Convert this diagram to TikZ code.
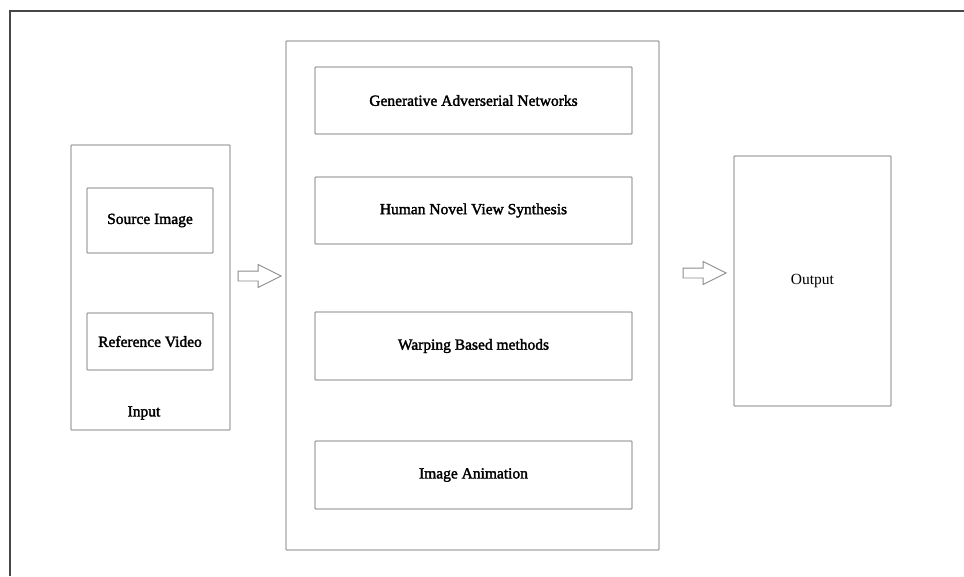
\documentclass[tikz,border=0pt]{standalone}
\usepackage{fontspec}
\setmainfont{Liberation Serif}
\newfontfamily\heavyserif[FakeBold=2]{Liberation Serif}
\usetikzlibrary{positioning, shapes.arrows, calc}

\begin{document}
\begin{tikzpicture}[
  x=1pt, y=-1pt,
  box/.style={draw=black!35, line width=1.4pt, rounded corners=0.8pt, inner sep=0pt, align=center, font=\fontsize{15.5}{18}\selectfont\heavyserif},
  blockarrow/.style={single arrow, draw=black!45, line width=0.9pt, inner sep=0pt, inner ysep=4.5pt, minimum height=43pt, single arrow head extend=6.5pt, single arrow tip angle=53, anchor=tail},
  frame/.style={draw=black!72, line width=1.7pt}
]
\useasboundingbox (0,0) rectangle (964,576);
\draw[frame] (10,576) |- (964,11);

% input column
\node[box, minimum width=159pt, minimum height=285pt] (input) at (150.5,287.5) {};
\node[box, minimum width=126pt, minimum height=65pt] (src) at (150,220.5) {Source Image};
\node[box, minimum width=126pt, minimum height=57pt] (ref) at (150,341.5) {Reference Video};
\node[font=\fontsize{15.5}{18}\selectfont\heavyserif] (inlbl) at (144,413) {Input};

% methods column
\node[box, minimum width=373pt, minimum height=509pt] (methods) at (472.5,295.5) {};
\node[box, minimum width=317pt, minimum height=67pt] (gan) at (473.5,100.5) {Generative Adverserial Networks};
\node[box, minimum width=317pt, minimum height=67pt] (hnvs) at (473.5,210.5) {Human Novel View Synthesis};
\node[box, minimum width=317pt, minimum height=68pt] (warp) at (473.5,346) {Warping Based methods};
\node[box, minimum width=317pt, minimum height=68pt] (anim) at (473.5,475) {Image Animation};

% output column
\node[box, minimum width=157pt, minimum height=250pt, font=\fontsize{15.5}{18}\selectfont] (out) at (812.5,281) {Output};

\node[blockarrow] (a1) at ($(input.east) + (7,-11.5)$) {};
\node[blockarrow] (a2) at ($(methods.east) + (23,-22.5)$) {};
\end{tikzpicture}
\end{document}
